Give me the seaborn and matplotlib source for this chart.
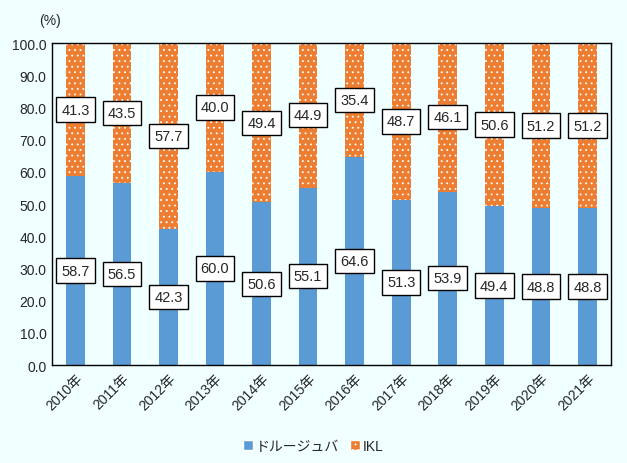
import matplotlib

matplotlib.use("Agg")
import matplotlib.pyplot as plt
import seaborn as sns
import pandas as pd
from matplotlib.patches import Patch

years = ["2010年", "2011年", "2012年", "2013年", "2014年", "2015年",
         "2016年", "2017年", "2018年", "2019年", "2020年", "2021年"]
dru = [58.7, 56.5, 42.3, 60.0, 50.6, 55.1, 64.6, 51.3, 53.9, 49.4, 48.8, 48.8]
ikl = [41.3, 43.5, 57.7, 40.0, 49.4, 44.9, 35.4, 48.7, 46.1, 50.6, 51.2, 51.2]

BG = "#F0FFFF"
BLUE = "#5B9BD5"
ORANGE = "#ED7D31"

sns.set_style("white")
plt.rcParams["font.family"] = ["Liberation Sans", "Noto Sans CJK JP"]
plt.rcParams["hatch.linewidth"] = 0.6

df = pd.DataFrame({"year": years, "dru": dru, "ikl": ikl})

fig = plt.figure(figsize=(6.27, 4.64), dpi=100, facecolor=BG)
ax = fig.add_axes([0.083, 0.211, 0.891, 0.694])
ax.set_facecolor(BG)

sns.barplot(data=df, x="year", y="dru", color=BLUE, saturation=1,
            width=0.4, ax=ax, linewidth=0)
sns.barplot(data=df, x="year", y="ikl", color=ORANGE, saturation=1,
            width=0.4, ax=ax, bottom=df["dru"], hatch="...",
            edgecolor="white", linewidth=0)

box = dict(boxstyle="square,pad=0.35", facecolor="white", edgecolor="black", linewidth=1)
for i, (d, k) in enumerate(zip(dru, ikl)):
    ax.text(i, d / 2, f"{d:.1f}", ha="center", va="center", fontsize=10.5, bbox=box)
    ax.text(i, d + k / 2, f"{k:.1f}", ha="center", va="center", fontsize=10.5, bbox=box)

ax.set_ylim(0, 100)
ax.set_xlim(-0.5, len(years) - 0.5)
ax.set_yticks(range(0, 101, 10))
ax.set_yticklabels([f"{v:.1f}" for v in range(0, 101, 10)], fontsize=10)
ax.set_xticks(range(len(years)))
ax.set_xticklabels(years, rotation=45, ha="right", rotation_mode="anchor", fontsize=10)
ax.set_xlabel("")
ax.set_ylabel("")
ax.tick_params(length=0, pad=4)
for s in ax.spines.values():
    s.set_visible(True)
    s.set_color("black")
    s.set_linewidth(1)

fig.text(0.062, 0.955, "(%)", fontsize=10, ha="left", va="center")

handles = [Patch(facecolor=BLUE, label="ドルージュバ"),
           Patch(facecolor=ORANGE, hatch="...", edgecolor="white", label="IKL")]
fig.legend(handles=handles, loc="center", bbox_to_anchor=(0.5, 0.037), ncol=2,
           frameon=False, fontsize=10, handlelength=0.7, handleheight=0.7,
           handletextpad=0.2, columnspacing=0.8)

fig.savefig("out.png", dpi=100, facecolor=BG)
